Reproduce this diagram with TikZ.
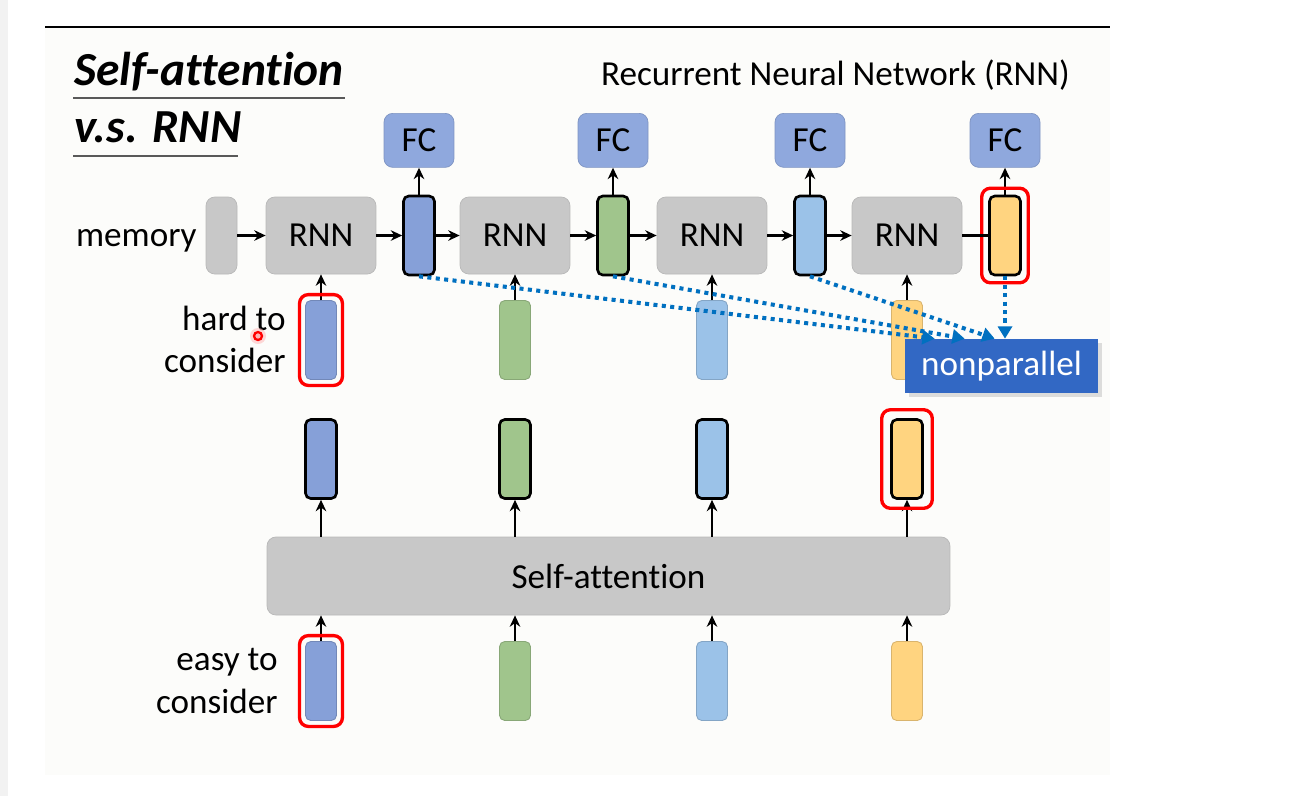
\documentclass[tikz,border=0pt]{standalone}
\usepackage{fontspec}
\setmainfont{Carlito}[Ligatures=NoCommon]
\usetikzlibrary{arrows.meta,positioning,fit,shadows}

\definecolor{slidebg}{RGB}{252,252,250}
\definecolor{boxgray}{RGB}{200,200,200}
\definecolor{fcblue}{RGB}{143,168,221}
\definecolor{vblue}{RGB}{134,160,216}
\definecolor{vgreen}{RGB}{160,197,140}
\definecolor{vlight}{RGB}{155,194,232}
\definecolor{vorange}{RGB}{255,212,128}
\definecolor{dotblue}{RGB}{0,112,192}
\definecolor{npblue}{RGB}{50,104,196}

\begin{document}
\begin{tikzpicture}[x=0.02cm,y=-0.02cm,>={Stealth[length=6.5pt,width=6pt]},
  font=\fontsize{20}{24}\selectfont,
  gbox/.style={rectangle,rounded corners=5pt,fill=boxgray,draw=boxgray!92!black,
    line width=0.4pt,inner sep=0pt,minimum width=2.2cm,minimum height=1.54cm},
  fcbox/.style={rectangle,rounded corners=5pt,fill=fcblue,draw=fcblue!88!black,
    line width=0.4pt,inner sep=0pt,minimum width=1.4cm,minimum height=1.08cm},
  vec/.style={rectangle,rounded corners=3pt,fill=#1,draw=#1!85!black,line width=0.5pt,
    inner sep=0pt,minimum width=0.62cm,minimum height=1.58cm},
  hvec/.style={vec=#1,draw=black,line width=1.5pt},
  redframe/.style={draw=red,line width=1.9pt,rounded corners=5pt,inner sep=#1},
  arr/.style={->,line width=1.4pt},
  dots/.style={-{Triangle[length=7pt,width=8pt]},draw=dotblue,line width=2.3pt,
    dash pattern=on 2.3pt off 2.5pt}]
  \useasboundingbox (0,0) rectangle (1291,796);
  % screen and slide
  \fill[white] (0,0) rectangle (1291,796);
  \fill[black!5] (0,0) rectangle (8,796);
  \fill[slidebg] (45,28) rectangle (1110,775);
  \draw[line width=1.2pt] (45,27) -- (1110,27);

  % title
  \node[anchor=base west,inner sep=0pt,font=\fontsize{27}{32}\selectfont\bfseries\itshape]
    (title1) at (74,85) {Self-attention};
  \node[anchor=base west,inner sep=0pt,font=\fontsize{27}{32}\selectfont\bfseries\itshape]
    (title2) at (74,142) {v.s. RNN};
  \draw[black!65,line width=1.1pt] (73,98) -- (345,98);
  \draw[black!65,line width=1.1pt] (73,156) -- (238,156);
  \node[anchor=base east,inner sep=0pt] (rnntitle) at (1070,85) {Recurrent Neural Network (RNN)};

  % RNN row
  \node[anchor=base east,inner sep=0pt] (memlabel) at (197,246) {memory};
  \node[gbox,minimum width=0.62cm] (mem) at (221.5,235.5) {};
  \foreach \i/\c/\col in {1/321/vblue,2/515/vgreen,3/712/vlight,4/907/vorange}{
    \node[gbox] (rnn\i) at (\c,235.5) {RNN};
    \node[hvec=\col] (h\i) at (\c+98,235.5) {};
    \node[fcbox,above=0.54cm of h\i] (fc\i) {FC};
    \node[vec=\col] (x\i) at (\c,340) {};
    \draw[arr] (h\i.north) -- (fc\i.south);
    \draw[arr] (x\i.north) -- (rnn\i.south);
  }
  \draw[arr] (mem.east) -- (rnn1.west);
  \foreach \i/\j in {1/2,2/3,3/4}{
    \draw[arr] (rnn\i.east) -- (h\i.west);
    \draw[arr] (h\i.east) -- (rnn\j.west);
  }
  \node[redframe=0.13cm,fit=(h4)] (hred) {};
  \draw[line width=1.4pt] (rnn4.east) -- (h4.west);
  \node[redframe=0.11cm,fit=(x1)] (xred) {};

  \node[anchor=east,align=right,inner sep=0pt] (hard) at (286,339) {hard to\\consider};
  % laser pointer
  \fill[red!25,opacity=0.6] (258,336) circle (8);
  \draw[red,line width=1.3pt,fill=white!70!red] (258,336) circle (4);

  % nonparallel
  \node[fill=npblue,text=white,minimum width=3.86cm,minimum height=1.08cm,inner sep=0pt,
    drop shadow={opacity=0.25,shadow xshift=2pt,shadow yshift=-2pt}] (np) at (1001.5,366) {nonparallel};
  \draw[dots] (h1.south) -- ([xshift=0.6cm]np.north west);
  \draw[dots] (h2.south) -- ([xshift=1.2cm]np.north west);
  \draw[dots] (h3.south) -- ([xshift=1.8cm]np.north west);
  \draw[dots] (h4.south) -- (h4.south |- np.north);

  % self-attention
  \node[gbox,minimum width=13.66cm,minimum height=1.56cm] (sa) at (608.5,576) {Self-attention};
  \foreach \i/\c/\col in {1/321/vblue,2/515/vgreen,3/712/vlight,4/907/vorange}{
    \node[hvec=\col] (a\i) at (\c,459) {};
    \node[vec=\col] (b\i) at (\c,681) {};
    \draw[arr] (a\i.south |- sa.north) -- (a\i.south);
    \draw[arr] (b\i.north) -- (b\i.north |- sa.south);
  }
  \node[redframe=0.17cm,fit=(a4)] (ared) {};
  \node[redframe=0.11cm,fit=(b1)] (bred) {};
  \node[anchor=east,align=right,inner sep=0pt] (easy) at (278,681) {easy to\\consider};
\end{tikzpicture}
\end{document}
